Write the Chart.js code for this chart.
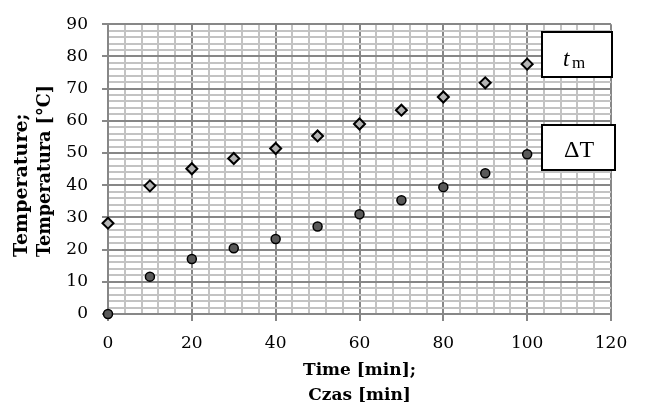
<!DOCTYPE html>
<html><head><meta charset="utf-8">
<script src="https://cdn.jsdelivr.net/npm/chart.js@4/dist/chart.umd.min.js"></script>
<style>html,body{margin:0;padding:0;background:#fff}#wrap{width:653px;height:403px}</style>
</head><body><div id="wrap"><canvas id="c" width="653" height="403"></canvas></div>
<script>
const timeMin = [0, 10, 20, 30, 40, 50, 60, 70, 80, 90, 100];
const tmValues = [28.2, 39.8, 45.1, 48.3, 51.4, 55.3, 59.0, 63.3, 67.4, 71.8, 77.6];
const dTValues = [0, 11.6, 17.1, 20.4, 23.3, 27.2, 31.0, 35.3, 39.4, 43.7, 49.6];
const xTitle = ['Time [min];', 'Czas [min]'];
const yTitle = ['Temperature;', 'Temperatura [°C]'];
const seriesNames = ['t', 'm', 'ΔT'];

const MAJOR = '#878787', MINOR = '#c3c3c3';
const SERIF = '"DejaVu Serif", serif';

function pts(xs, ys) { return xs.map((x, i) => ({ x: x, y: ys[i] })); }

const decor = {
  id: 'decor',
  afterDatasetsDraw(chart) {
    const ctx = chart.ctx, a = chart.chartArea;
    ctx.save();
    // axis titles
    ctx.fillStyle = '#000';
    ctx.font = 'bold 17px ' + SERIF;
    ctx.textAlign = 'center';
    ctx.textBaseline = 'alphabetic';
    const cx = (a.left + a.right) / 2;
    ctx.fillText(xTitle[0], cx, 375);
    ctx.fillText(xTitle[1], cx, 400);
    ctx.save();
    ctx.translate(0, 257);
    ctx.rotate(-Math.PI / 2);
    ctx.textAlign = 'left';
    ctx.font = 'bold 19px ' + SERIF;
    ctx.fillText(yTitle[0], 0, 27, 152);
    ctx.fillText(yTitle[1], 0, 50, 172);
    ctx.restore();
    // label boxes
    ctx.lineWidth = 2;
    ctx.strokeStyle = '#000';
    ctx.fillStyle = '#fff';
    const bx1 = a.right - 69, by1 = 32;
    ctx.fillRect(bx1, by1, 70, 45); ctx.strokeRect(bx1, by1, 70, 45);
    const bx2 = a.right - 69, by2 = 125;
    ctx.fillRect(bx2, by2, 73, 45); ctx.strokeRect(bx2, by2, 73, 45);
    ctx.fillStyle = '#000';
    ctx.textAlign = 'left';
    ctx.font = 'italic 23px "Liberation Serif", serif';
    ctx.fillText(seriesNames[0], bx1 + 21, 66);
    ctx.font = '17px "Liberation Serif", serif';
    ctx.fillText(seriesNames[1], bx1 + 30, 68);
    ctx.font = '24px "Liberation Serif", serif';
    ctx.textAlign = 'center';
    ctx.fillText(seriesNames[2], bx2 + 37, 157);
    ctx.restore();
  }
};

new Chart(document.getElementById('c'), {
  type: 'scatter',
  data: {
    datasets: [
      { label: 't_m', data: pts(timeMin, tmValues), pointStyle: 'rectRot', pointRadius: 5.5,
        backgroundColor: '#b4b4b4', borderColor: '#000', borderWidth: 2, clip: false },
      { label: 'ΔT', data: pts(timeMin, dTValues), pointStyle: 'circle', pointRadius: 4.5,
        backgroundColor: '#595959', borderColor: '#000', borderWidth: 1.5, clip: false }
    ]
  },
  options: {
    responsive: false,
    devicePixelRatio: 1,
    animation: false,
    layout: { padding: { top: 22, right: 42, bottom: 0, left: 0 } },
    plugins: { legend: { display: false }, tooltip: { enabled: false } },
    scales: {
      x: {
        type: 'linear', min: 0, max: 120,
        afterFit(s) { s.height = 89; },
        border: { display: true, color: MAJOR, width: 2 },
        grid: {
          color: c => (c.tick && c.tick.value % 20 === 0) ? MAJOR : MINOR,
          lineWidth: 2,
          tickColor: c => (c.tick && c.tick.value % 20 === 0) ? MAJOR : 'rgba(0,0,0,0)',
          tickLength: 7
        },
        ticks: {
          stepSize: 4, autoSkip: false, maxRotation: 0, padding: 12,
          color: '#000', font: { family: SERIF, size: 17 },
          callback: v => (v % 20 === 0 ? String(v) : '')
        }
      },
      y: {
        type: 'linear', min: 0, max: 90,
        afterFit(s) { s.width = 108; },
        border: { display: true, color: MAJOR, width: 2 },
        grid: {
          color: c => (c.tick && c.tick.value % 10 === 0) ? MAJOR : MINOR,
          lineWidth: 2,
          tickColor: c => (c.tick && c.tick.value % 10 === 0) ? MAJOR : 'rgba(0,0,0,0)',
          tickLength: 6
        },
        ticks: {
          stepSize: 2, autoSkip: false, padding: 14,
          color: '#000', font: { family: SERIF, size: 17 },
          callback: v => (v % 10 === 0 ? String(v) : '')
        }
      }
    }
  },
  plugins: [decor]
});
</script>
</body></html>
